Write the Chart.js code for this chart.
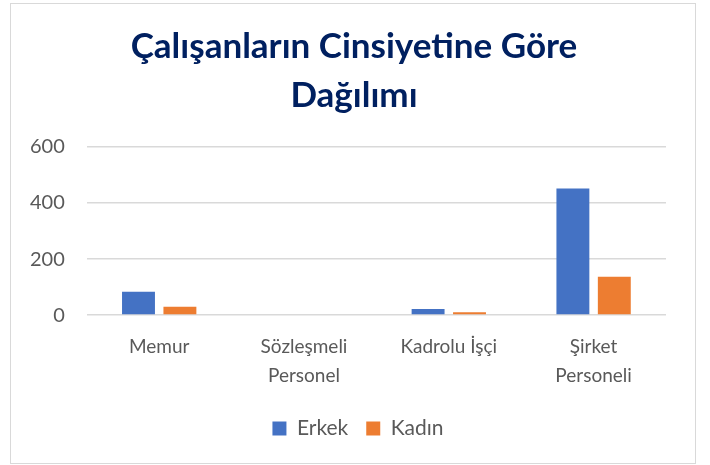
<!DOCTYPE html>
<html>
<head>
<meta charset="utf-8">
<script src="https://cdn.jsdelivr.net/npm/chart.js@4.4.1/dist/chart.umd.min.js"></script>
<style>
  html, body { margin: 0; padding: 0; background: #ffffff; }
  #wrap { position: relative; width: 710px; height: 465px; }
  #frame {
    position: absolute; left: 10px; top: 3px; width: 684px; height: 459px;
    border: 1.5px solid #d9d9d9; pointer-events: none;
  }
  canvas { position: absolute; left: 0; top: 0; }
</style>
</head>
<body>
<div id="wrap">
  <canvas id="chart" width="710" height="465"></canvas>
  <div id="frame"></div>
</div>
<script>
const categories = ["Memur", ["Sözleşmeli", "Personel"], "Kadrolu İşçi", ["Şirket", "Personeli"]];
const erkekValues = [83, 0, 22, 452];
const kadinValues = [30, 0, 10, 137];
const yTicks = [0, 200, 400, 600];

const axisText = "#595959";
const gridColor = "#d9d9d9";

// title and legend sit centred on the whole frame, not on the plot
const shiftBoxes = {
  id: "shiftBoxes",
  afterLayout(chart) {
    const moves = [[chart.titleBlock, 17], [chart.legend, 21]];
    moves.forEach(([box, dx]) => {
      if (!box) return;
      box.left += dx;
      box.right += dx;
    });
  },
};

new Chart(document.getElementById("chart"), {
  type: "bar",
  data: {
    labels: categories,
    datasets: [
      {
        label: "Erkek",
        data: erkekValues,
        backgroundColor: "#4472c4",
        categoryPercentage: 0.572,
        barPercentage: 0.795,
      },
      {
        label: "Kadın",
        data: kadinValues,
        backgroundColor: "#ed7d31",
        categoryPercentage: 0.572,
        barPercentage: 0.795,
      },
    ],
  },
  options: {
    responsive: false,
    animation: false,
    layout: { padding: { left: 8, right: 44, top: 10, bottom: 16 } },
    plugins: {
      tooltip: { enabled: false },
      title: {
        display: true,
        text: ["Çalışanların Cinsiyetine Göre", "Dağılımı"],
        color: "#002060",
        font: { family: "Lato", size: 35, weight: "bold", lineHeight: 1.4 },
        padding: { top: 12, bottom: 27 },
      },
      legend: {
        position: "bottom",
        labels: {
          color: axisText,
          font: { family: "Lato", size: 21 },
          boxWidth: 14,
          boxHeight: 14,
          padding: 18,
        },
      },
    },
    scales: {
      x: {
        grid: { display: false },
        border: { display: false },
        ticks: {
          color: axisText,
          font: { family: "Lato", size: 19, lineHeight: 1.55 },
          maxRotation: 0,
          padding: 9,
        },
      },
      y: {
        min: 0,
        max: 600,
        afterBuildTicks: (axis) => {
          axis.ticks = yTicks.map((v) => ({ value: v }));
        },
        grid: { color: gridColor, lineWidth: 1.5, drawTicks: false },
        border: { display: false },
        ticks: {
          color: axisText,
          font: { family: "Lato", size: 20 },
          padding: 22,
        },
      },
    },
  },
  plugins: [shiftBoxes],
});
</script>
</body>
</html>
